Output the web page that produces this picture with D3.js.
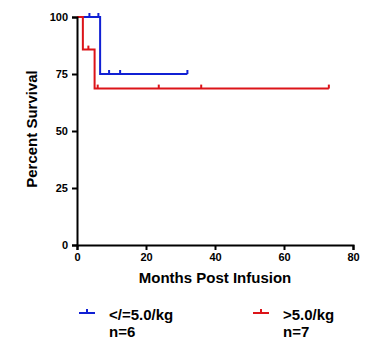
<!DOCTYPE html>
<html lang="en">
  <head>
    <meta charset="UTF-8" />
    <title>Survival curve</title>
    <style>
      body {
        margin: 0;
        background: #fff;
      }
      text {
        font-family: Arial, "Liberation Sans", sans-serif;
        font-weight: bold;
      }
    </style>
  </head>
  <body>
    <div id="chart"></div>
    <script src="https://d3js.org/d3.v7.min.js"></script>
    <script>
      // step points: [month, percent]
      const lowSteps = [
        [0, 100],
        [6.7, 75],
        [32, 75]
      ];
      const lowCensored = [3.6, 6.2, 9.3, 12.5, 32];

      const highSteps = [
        [0, 100],
        [1.7, 85.7],
        [5.1, 68.6],
        [73, 68.6]
      ];
      const highCensored = [3.3, 6, 23.7, 36, 73];

      const xTicks = [0, 20, 40, 60, 80];
      const yTicks = [0, 25, 50, 75, 100];

      const groups = [
        { label: "</=5.0/kg", n: "n=6", color: "#1020d4", steps: lowSteps, cens: lowCensored },
        { label: ">5.0/kg", n: "n=7", color: "#dc1419", steps: highSteps, cens: highCensored }
      ];

      const width = 379,
        height = 340;

      const x = d3.scaleLinear().domain([0, 80]).range([77, 353]);
      const y = d3.scaleLinear().domain([0, 100]).range([245, 17]);

      const svg = d3
        .select("#chart")
        .append("svg")
        .attr("width", width)
        .attr("height", height);

      // value of a step curve at time t
      function survAt(steps, t) {
        let v = steps[0][1];
        steps.forEach(function (s) {
          if (s[0] <= t) v = s[1];
        });
        return v;
      }

      const line = d3
        .line()
        .x((d) => x(d[0]))
        .y((d) => y(d[1]))
        .curve(d3.curveStepAfter);

      groups.forEach(function (g) {
        svg
          .append("path")
          .attr("d", line(g.steps))
          .attr("fill", "none")
          .attr("stroke", g.color)
          .attr("stroke-width", 2);

        svg
          .selectAll(null)
          .data(g.cens)
          .enter()
          .append("line")
          .attr("x1", (d) => x(d))
          .attr("x2", (d) => x(d))
          .attr("y1", (d) => y(survAt(g.steps, d)))
          .attr("y2", (d) => y(survAt(g.steps, d)) - 4)
          .attr("stroke", g.color)
          .attr("stroke-width", 2);
      });

      // axes
      const xAxis = svg
        .append("g")
        .attr("transform", "translate(0," + y(0) + ")")
        .call(d3.axisBottom(x).tickValues(xTicks).tickSize(5).tickPadding(3));
      const yAxis = svg
        .append("g")
        .attr("transform", "translate(" + x(0) + ",0)")
        .call(d3.axisLeft(y).tickValues(yTicks).tickSize(5).tickPadding(4));

      [xAxis, yAxis].forEach(function (a) {
        a.select(".domain").attr("stroke", "#000").attr("stroke-width", 2);
        a.selectAll(".tick line").attr("stroke", "#000").attr("stroke-width", 2);
        a.selectAll(".tick text")
          .attr("fill", "#000")
          .style("font-size", "11px")
          .style("font-family", "Arial, 'Liberation Sans', sans-serif")
          .style("font-weight", "bold");
      });

      svg
        .append("text")
        .attr("x", (x(0) + x(80)) / 2)
        .attr("y", 283)
        .attr("text-anchor", "middle")
        .style("font-size", "15px")
        .text("Months Post Infusion");

      svg
        .append("text")
        .attr("transform", "translate(37,129) rotate(-90)")
        .attr("text-anchor", "middle")
        .style("font-size", "15px")
        .text("Percent Survival");

      // legend
      const legendX = [79, 253];
      groups.forEach(function (g, i) {
        const lg = svg.append("g").attr("transform", "translate(" + legendX[i] + ",313)");
        lg.append("line")
          .attr("x1", 0)
          .attr("x2", 16)
          .attr("stroke", g.color)
          .attr("stroke-width", 2);
        lg.append("line")
          .attr("x1", 8)
          .attr("x2", 8)
          .attr("y1", 0)
          .attr("y2", -4)
          .attr("stroke", g.color)
          .attr("stroke-width", 2);
        lg.append("text").attr("x", 30).attr("y", 7).style("font-size", "15px").text(g.label);
        lg.append("text").attr("x", 30).attr("y", 24).style("font-size", "15px").text(g.n);
      });
    </script>
  </body>
</html>
